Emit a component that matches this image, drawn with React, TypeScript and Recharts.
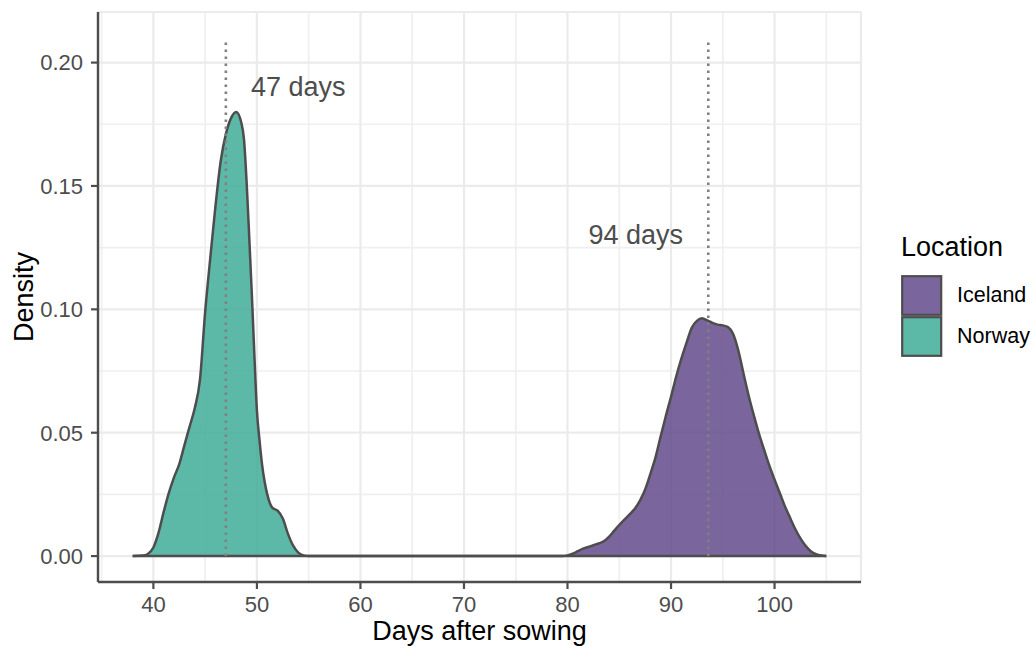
import React from 'react';
import {
  ComposedChart,
  Area,
  XAxis,
  YAxis,
  CartesianGrid,
  ReferenceLine,
  ReferenceDot,
  Label,
} from 'recharts';

// ---- data ----
const NORWAY_DAYS = [
  38, 39, 39.5, 40, 40.5, 41, 41.5, 42, 42.5, 43, 43.5, 44, 44.5, 45, 45.5, 46,
  46.5, 47, 47.5, 48, 48.5, 48.75, 49, 49.25, 49.5, 49.75, 50, 50.25, 50.5,
  50.75, 51, 51.5, 52, 52.5, 53, 53.5, 54, 54.5, 55, 70,
];
const NORWAY_DENSITY = [
  0, 0.0002, 0.001, 0.0035, 0.0095, 0.018, 0.0257, 0.032, 0.0373, 0.045,
  0.0525, 0.06, 0.0715, 0.099, 0.121, 0.142, 0.16, 0.171, 0.1775, 0.18, 0.1755,
  0.169, 0.152, 0.13, 0.107, 0.082, 0.059, 0.047, 0.037, 0.03, 0.025, 0.0195,
  0.0184, 0.0152, 0.009, 0.0042, 0.0014, 0.0003, 0, 0,
];
const ICELAND_DAYS = [
  70, 79.5, 80, 80.5, 81, 81.5, 82, 82.5, 83, 83.5, 84, 84.5, 85, 85.5, 86,
  86.5, 87, 87.5, 88, 88.5, 89, 89.5, 90, 90.5, 91, 91.5, 92, 92.5, 93, 93.5,
  94, 94.5, 95, 95.5, 96, 96.5, 97, 97.5, 98, 98.5, 99, 99.5, 100, 100.5, 101,
  101.5, 102, 102.5, 103, 103.5, 104, 104.5, 105,
];
const ICELAND_DENSITY = [
  0, 0, 0.0003, 0.001, 0.002, 0.003, 0.0037, 0.0044, 0.0051, 0.006, 0.0078,
  0.0102, 0.0126, 0.0148, 0.0169, 0.0192, 0.0225, 0.027, 0.0332, 0.04, 0.0485,
  0.0568, 0.0645, 0.0728, 0.08, 0.0865, 0.0925, 0.0953, 0.0964, 0.0955, 0.0945,
  0.0938, 0.0935, 0.0928, 0.09, 0.0833, 0.074, 0.065, 0.057, 0.0495, 0.043,
  0.0366, 0.031, 0.0256, 0.0202, 0.0155, 0.011, 0.0072, 0.0042, 0.002, 0.0008,
  0.0002, 0,
];

const LOCATIONS = ['Iceland', 'Norway'];
const LOCATION_FILLS = ['#644a8c', '#40ad99'];
const MEDIAN_DAYS = [93.6, 47];
const MEDIAN_LABELS = ['94 days', '47 days'];
const LABEL_X = [86.6, 54];
const LABEL_Y = [0.13, 0.19];
const MEDIAN_LINE_TOP = 0.21;

const X_MAJOR = [40, 50, 60, 70, 80, 90, 100];
const X_MINOR = [35, 45, 55, 65, 75, 85, 95, 105];
const Y_MAJOR = [0, 0.05, 0.1, 0.15, 0.2];
const Y_MINOR = [0.025, 0.075, 0.125, 0.175];
const X_DOMAIN: [number, number] = [34.65, 108.35];
const Y_DOMAIN: [number, number] = [-0.0105, 0.2205];

const norwayPoints = NORWAY_DAYS.map((x, i) => ({ x, density: NORWAY_DENSITY[i] }));
const icelandPoints = ICELAND_DAYS.map((x, i) => ({ x, density: ICELAND_DENSITY[i] }));
const seriesPoints = [icelandPoints, norwayPoints];

const FONT = '"Liberation Sans", Arial, Helvetica, sans-serif';
const DARK = '#4d4d4d';
const FILL_OPACITY = 0.85;
const TITLE_SIZE = 27;
const TICK_SIZE = 22;

function AnnotationText(label: string) {
  return (p: any) => (
    <text
      x={p.cx}
      y={p.cy}
      textAnchor="middle"
      dominantBaseline="central"
      fontSize={TITLE_SIZE}
      fontFamily={FONT}
      fill={DARK}
    >
      {label}
    </text>
  );
}

function LegendBox() {
  return (
    <div
      style={{
        position: 'absolute',
        left: 901,
        top: 231,
        fontFamily: FONT,
        color: '#000',
      }}
    >
      <div style={{ fontSize: TITLE_SIZE, lineHeight: '32px', marginBottom: 12 }}>Location</div>
      {LOCATIONS.map((name, i) => (
        <div key={name} style={{ display: 'flex', alignItems: 'center', height: 41 }}>
          <svg width={42} height={41} style={{ display: 'block' }}>
            <rect x={1.2} y={1.2} width={39} height={38.6} fill="#fff" />
            <rect
              x={1.2}
              y={1.2}
              width={39}
              height={38.6}
              fill={LOCATION_FILLS[i]}
              fillOpacity={FILL_OPACITY}
              stroke={DARK}
              strokeWidth={2.2}
            />
          </svg>
          <span style={{ fontSize: 21.5, marginLeft: 14, color: '#000' }}>{name}</span>
        </div>
      ))}
    </div>
  );
}

export default function App() {
  return (
    <div
      style={{
        position: 'absolute',
        left: 0,
        top: 0,
        width: 1032,
        height: 646,
        background: '#fff',
        fontFamily: FONT,
      }}
    >
      <ComposedChart width={1032} height={646} margin={{ top: 12, right: 171, bottom: 0, left: 0 }}>
        <XAxis
          xAxisId="minor"
          type="number"
          dataKey="x"
          domain={X_DOMAIN}
          ticks={X_MINOR}
          allowDataOverflow
          hide
        />
        <YAxis
          yAxisId="minor"
          type="number"
          domain={Y_DOMAIN}
          ticks={Y_MINOR}
          allowDataOverflow
          hide
        />
        <CartesianGrid xAxisId="minor" yAxisId="minor" stroke="#efefef" strokeWidth={1.6} />
        <CartesianGrid stroke="#ebebeb" strokeWidth={2.2} />
        <XAxis
          type="number"
          dataKey="x"
          domain={X_DOMAIN}
          ticks={X_MAJOR}
          allowDataOverflow
          height={64}
          tickSize={7}
          tickMargin={7}
          axisLine={{ stroke: DARK, strokeWidth: 2.4 }}
          tickLine={{ stroke: DARK, strokeWidth: 2.2 }}
          tick={{ fill: DARK, fontSize: TICK_SIZE, fontFamily: FONT }}
        >
          <Label value="Days after sowing" position="insideBottom" offset={6} fontSize={TITLE_SIZE} fill="#000" fontFamily={FONT} />
        </XAxis>
        <YAxis
          type="number"
          domain={Y_DOMAIN}
          ticks={Y_MAJOR}
          allowDataOverflow
          width={98}
          tickSize={7}
          tickMargin={8}
          tickFormatter={(v: number) => v.toFixed(2)}
          axisLine={{ stroke: DARK, strokeWidth: 2.4 }}
          tickLine={{ stroke: DARK, strokeWidth: 2.2 }}
          tick={{ fill: DARK, fontSize: TICK_SIZE, fontFamily: FONT }}
        >
          <Label
            value="Density"
            angle={-90}
            position="insideLeft"
            offset={23}
            fontSize={TITLE_SIZE}
            fill="#000"
            fontFamily={FONT}
            style={{ textAnchor: 'middle' }}
          />
        </YAxis>
        {seriesPoints.map((pts, i) => (
          <Area
            key={LOCATIONS[i]}
            name={LOCATIONS[i]}
            data={pts}
            dataKey="density"
            type="monotone"
            baseValue={0}
            fill={LOCATION_FILLS[i]}
            fillOpacity={FILL_OPACITY}
            stroke={DARK}
            strokeWidth={2.5}
            dot={false}
            activeDot={false}
            isAnimationActive={false}
          />
        ))}
        <ReferenceLine
          segment={[
            { x: NORWAY_DAYS[0], y: 0 },
            { x: ICELAND_DAYS[ICELAND_DAYS.length - 1], y: 0 },
          ]}
          stroke={DARK}
          strokeWidth={2.5}
        />
        {MEDIAN_DAYS.map((m, i) => (
          <ReferenceLine
            key={'m' + i}
            segment={[
              { x: m, y: 0 },
              { x: m, y: MEDIAN_LINE_TOP },
            ]}
            stroke="#808080"
            strokeWidth={2.6}
            strokeDasharray="2.6 4.4"
          />
        ))}
        {MEDIAN_LABELS.map((lab, i) => (
          <ReferenceDot
            key={'l' + i}
            x={LABEL_X[i]}
            y={LABEL_Y[i]}
            r={1}
            shape={AnnotationText(lab)}
          />
        ))}
      </ComposedChart>
      <LegendBox />
    </div>
  );
}
